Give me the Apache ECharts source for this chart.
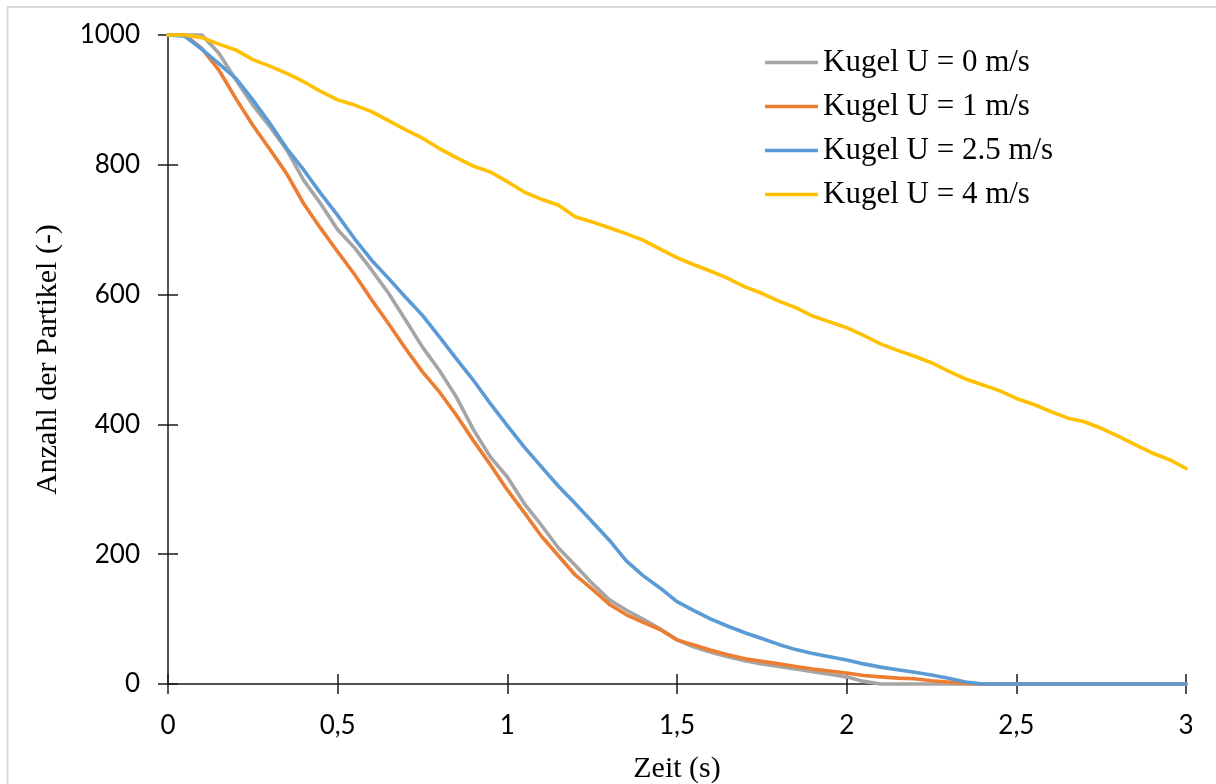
<!DOCTYPE html>
<html>
<head>
<meta charset="utf-8">
<script src="https://cdn.jsdelivr.net/npm/echarts@6/dist/echarts.min.js"></script>
<style>
  html, body { margin: 0; padding: 0; background: #ffffff; }
  #chart { width: 1216px; height: 784px; }
</style>
</head>
<body>
<div id="chart"></div>
<script>
// Zeitpunkte (s)
const zeit = [
  0, 0.05, 0.1, 0.15, 0.2, 0.25, 0.3, 0.35, 0.4, 0.45,
  0.5, 0.55, 0.6, 0.65, 0.7, 0.75, 0.8, 0.85, 0.9, 0.95,
  1.0, 1.05, 1.1, 1.15, 1.2, 1.25, 1.3, 1.35, 1.4, 1.45,
  1.5, 1.55, 1.6, 1.65, 1.7, 1.75, 1.8, 1.85, 1.9, 1.95,
  2.0, 2.05, 2.1, 2.15, 2.2, 2.25, 2.3, 2.35, 2.4, 2.45,
  2.5, 2.55, 2.6, 2.65, 2.7, 2.75, 2.8, 2.85, 2.9, 2.95,
  3.0
];

// Anzahl der Partikel je Anströmgeschwindigkeit
const kugelU0 = [
  1000, 1000, 1000, 972, 931, 892, 859, 823, 776, 740,
  700, 672, 638, 602, 561, 519, 483, 442, 392, 350,
  319, 278, 245, 210, 183, 155, 130, 114, 100, 85,
  68, 57, 49, 42, 36, 31, 27, 23, 19, 15,
  11, 4, 0, 0, 0, 0, 0, 0, 0, 0,
  0, 0, 0, 0, 0, 0, 0, 0, 0, 0,
  0
];
const kugelU1 = [
  1000, 1000, 979, 946, 902, 861, 824, 786, 740, 702,
  666, 631, 592, 555, 517, 481, 450, 414, 375, 338,
  299, 264, 228, 198, 168, 146, 123, 107, 95, 84,
  68, 60, 52, 45, 39, 35, 31, 27, 23, 20,
  17, 13, 11, 9, 8, 5, 3, 1, 0, 0,
  0, 0, 0, 0, 0, 0, 0, 0, 0, 0,
  0
];
const kugelU25 = [
  1000, 998, 978, 956, 933, 900, 864, 825, 792, 756,
  722, 686, 653, 625, 596, 568, 535, 501, 468, 432,
  398, 365, 335, 305, 278, 250, 222, 190, 167, 148,
  127, 113, 100, 89, 79, 70, 61, 53, 47, 42,
  37, 31, 26, 22, 18, 14, 9, 3, 0, 0,
  0, 0, 0, 0, 0, 0, 0, 0, 0, 0,
  0
];
const kugelU4 = [
  1000, 1000, 996, 986, 977, 962, 952, 941, 928, 913,
  900, 892, 882, 868, 854, 841, 825, 811, 798, 789,
  774, 758, 747, 738, 720, 712, 703, 694, 684, 670,
  657, 646, 636, 625, 612, 602, 590, 580, 567, 558,
  549, 537, 524, 514, 505, 495, 482, 470, 461, 452,
  440, 431, 420, 410, 404, 394, 382, 369, 356, 346,
  332
];

const seriesNames = ['Kugel U = 0 m/s', 'Kugel U = 1 m/s', 'Kugel U = 2.5 m/s', 'Kugel U = 4 m/s'];
const seriesValues = [kugelU0, kugelU1, kugelU25, kugelU4];
const seriesColors = ['#A5A5A5', '#ED7D31', '#5B9BD5', '#FFC000'];

const serif = '"Liberation Serif", "Times New Roman", serif';
const sans = 'Lato, "Open Sans", sans-serif';
const axisColor = '#1a1a1a';

const chart = echarts.init(document.getElementById('chart'), null, { renderer: 'canvas' });

const fmtX = v => String(v).replace('.', ',');
const fmtY = v => String(v);

const option = {
  backgroundColor: '#ffffff',
  animation: false,
  graphic: [{
    type: 'rect',
    silent: true,
    shape: { x: 7.5, y: 7, width: 1300, height: 1000 },
    style: { fill: 'none', stroke: '#d9d9d9', lineWidth: 2 }
  }],
  grid: { left: 168, right: 30, top: 35, bottom: 100, containLabel: false, outerBoundsMode: 'none' },
  legend: {
    orient: 'vertical',
    left: 765,
    top: 47,
    padding: 0,
    itemWidth: 53,
    itemHeight: 14,
    itemGap: 13,
    icon: 'path://M0,5.2 L53,5.2 L53,8.8 L0,8.8 Z',
    textStyle: { fontFamily: serif, fontSize: 31, color: '#000', lineHeight: 30 },
    data: seriesNames
  },
  xAxis: [{
    type: 'value',
    min: 0, max: 3, interval: 0.5,
    position: 'bottom',
    name: 'Zeit (s)',
    nameLocation: 'middle',
    nameGap: 70,
    nameTextStyle: { fontFamily: serif, fontSize: 30, color: '#000' },
    axisLine: { show: true, onZero: false, lineStyle: { color: axisColor, width: 1.5 } },
    axisTick: { show: true, inside: false, length: 10, lineStyle: { color: axisColor, width: 1.5 } },
    axisLabel: { margin: 29, fontFamily: sans, fontSize: 26, color: '#000', formatter: fmtX },
    splitLine: { show: false }
  }, {
    type: 'value',
    min: 0, max: 3, interval: 0.5,
    position: 'bottom',
    axisLine: { show: false, onZero: false },
    axisTick: { show: true, inside: true, length: 10, lineStyle: { color: axisColor, width: 1.5 } },
    axisLabel: { show: false },
    splitLine: { show: false }
  }],
  yAxis: [{
    type: 'value',
    min: 0, max: 1000, interval: 200,
    position: 'left',
    name: 'Anzahl der Partikel (-)',
    nameLocation: 'middle',
    nameGap: 105,
    nameRotate: 90,
    nameTextStyle: { fontFamily: serif, fontSize: 30, color: '#000' },
    axisLine: { show: true, onZero: false, lineStyle: { color: axisColor, width: 1.5 } },
    axisTick: { show: true, inside: false, length: 10, lineStyle: { color: axisColor, width: 1.5 } },
    axisLabel: { margin: 28, fontFamily: sans, fontSize: 26, color: '#000', formatter: fmtY },
    splitLine: { show: false }
  }, {
    type: 'value',
    min: 0, max: 1000, interval: 200,
    position: 'left',
    axisLine: { show: false, onZero: false },
    axisTick: { show: true, inside: true, length: 10, lineStyle: { color: axisColor, width: 1.5 } },
    axisLabel: { show: false },
    splitLine: { show: false }
  }],
  series: seriesNames.map((name, i) => ({
    name,
    type: 'line',
    xAxisIndex: 0,
    yAxisIndex: 0,
    symbol: 'none',
    smooth: false,
    clip: false,
    color: seriesColors[i],
    lineStyle: { color: seriesColors[i], width: 3.6, cap: 'round', join: 'round' },
    data: zeit.map((t, k) => [t, seriesValues[i][k]])
  }))
};

chart.setOption(option);
</script>
</body>
</html>
